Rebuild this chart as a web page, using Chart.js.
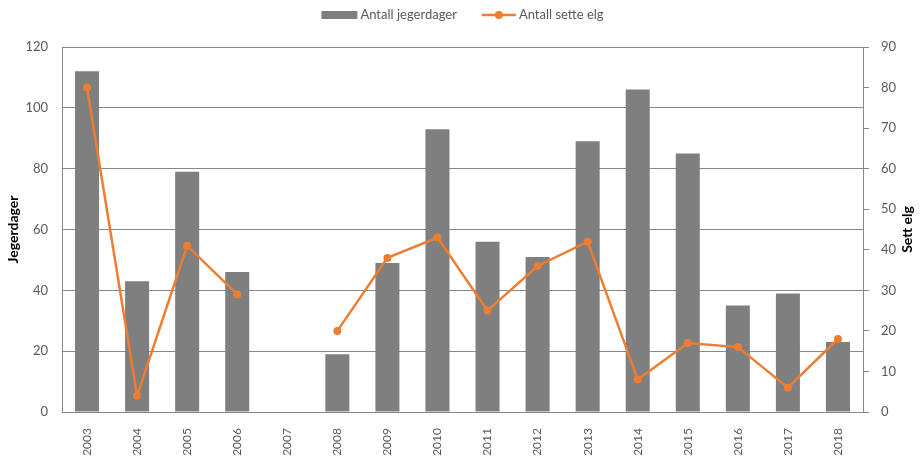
<!DOCTYPE html>
<html>
<head>
<meta charset="utf-8">
<script src="https://cdn.jsdelivr.net/npm/chart.js@4/dist/chart.umd.min.js"></script>
<style>
  html, body { margin: 0; padding: 0; background: #fff; }
  #wrap { width: 923px; height: 458px; }
</style>
</head>
<body>
<div id="wrap"><canvas id="chart" width="923" height="458"></canvas></div>
<script>
// data
const years = ['2003', '2004', '2005', '2006', '2007', '2008', '2009', '2010',
               '2011', '2012', '2013', '2014', '2015', '2016', '2017', '2018'];
const jegerdager = [112, 43, 79, 46, null, 19, 49, 93, 56, 51, 89, 106, 85, 35, 39, 23];
const settElg = [80, 4, 41, 29, null, 20, 38, 43, 25, 36, 42, 8, 17, 16, 6, 18];

const FONT = 'Lato, "Open Sans", sans-serif';
const GREY = '#7f7f7f';
const ORANGE = '#ed7d31';
const GRID = '#888888';
const TEXT = '#595959';

// legend + right axis title drawn by hand (Excel style)
const extras = {
    id: 'extras',
    afterDraw(chart) {
        const ctx = chart.ctx;
        const area = chart.chartArea;
        ctx.save();
        ctx.font = '13px ' + FONT;
        ctx.textBaseline = 'middle';
        ctx.textAlign = 'left';
        const t1 = 'Antall jegerdager', t2 = 'Antall sette elg';
        const w1 = ctx.measureText(t1).width, w2 = ctx.measureText(t2).width;
        const total = 36 + 3 + w1 + 25 + 34 + 3 + w2;
        let x = (area.left + area.right) / 2 - total / 2;
        const y = 15;
        ctx.fillStyle = GREY;
        ctx.fillRect(x, y - 4, 36, 8);
        x += 39;
        ctx.fillStyle = TEXT;
        ctx.fillText(t1, x, y);
        x += w1 + 25;
        ctx.strokeStyle = ORANGE;
        ctx.lineWidth = 2.5;
        ctx.beginPath();
        ctx.moveTo(x, y);
        ctx.lineTo(x + 34, y);
        ctx.stroke();
        ctx.fillStyle = ORANGE;
        ctx.beginPath();
        ctx.arc(x + 17, y, 4, 0, Math.PI * 2);
        ctx.fill();
        x += 37;
        ctx.fillStyle = TEXT;
        ctx.fillText(t2, x, y);

        // right axis title, reads bottom to top
        ctx.translate(907, (area.top + area.bottom) / 2);
        ctx.rotate(-Math.PI / 2);
        ctx.textAlign = 'center';
        ctx.font = 'bold 14px ' + FONT;
        ctx.fillStyle = '#000';
        ctx.fillText('Sett elg', 0, 0);
        ctx.restore();
    }
};

new Chart(document.getElementById('chart'), {
    type: 'bar',
    data: {
        labels: years,
        datasets: [{
            type: 'line',
            label: 'Antall sette elg',
            data: settElg,
            yAxisID: 'y1',
            borderColor: ORANGE,
            backgroundColor: ORANGE,
            borderWidth: 2.5,
            pointRadius: 4,
            pointBackgroundColor: ORANGE,
            pointBorderWidth: 0,
            tension: 0,
            spanGaps: false,
            order: 1
        }, {
            label: 'Antall jegerdager',
            data: jegerdager,
            yAxisID: 'y',
            backgroundColor: GREY,
            categoryPercentage: 1,
            barPercentage: 0.48,
            order: 2
        }]
    },
    options: {
        responsive: false,
        animation: false,
        layout: { padding: { top: 47, left: 0, right: 0, bottom: 0 } },
        plugins: {
            legend: { display: false },
            tooltip: { enabled: false }
        },
        scales: {
            x: {
                grid: { display: false },
                border: { display: true, color: GRID },
                ticks: {
                    minRotation: 90,
                    maxRotation: 90,
                    padding: 8,
                    color: TEXT,
                    font: { family: FONT, size: 12 }
                },
                afterFit: (s) => { s.height = 46; }
            },
            y: {
                position: 'left',
                min: 0,
                max: 120,
                ticks: { stepSize: 20, padding: 14, color: TEXT, font: { family: FONT, size: 13 } },
                grid: { color: GRID, drawTicks: false },
                border: { display: true, color: GRID },
                title: {
                    display: true,
                    text: 'Jegerdager',
                    color: '#000',
                    padding: { top: 5, bottom: 0 },
                    font: { family: FONT, size: 14, weight: 'bold' }
                },
                afterFit: (s) => { s.width = 62; }
            },
            y1: {
                position: 'right',
                min: 0,
                max: 90,
                ticks: { stepSize: 10, padding: 12, color: TEXT, font: { family: FONT, size: 13 } },
                grid: { drawOnChartArea: false, drawTicks: true, tickLength: 6, color: GRID },
                border: { display: true, color: GRID },
                afterFit: (s) => { s.width = 60; }
            }
        }
    },
    plugins: [extras]
});
</script>
</body>
</html>
